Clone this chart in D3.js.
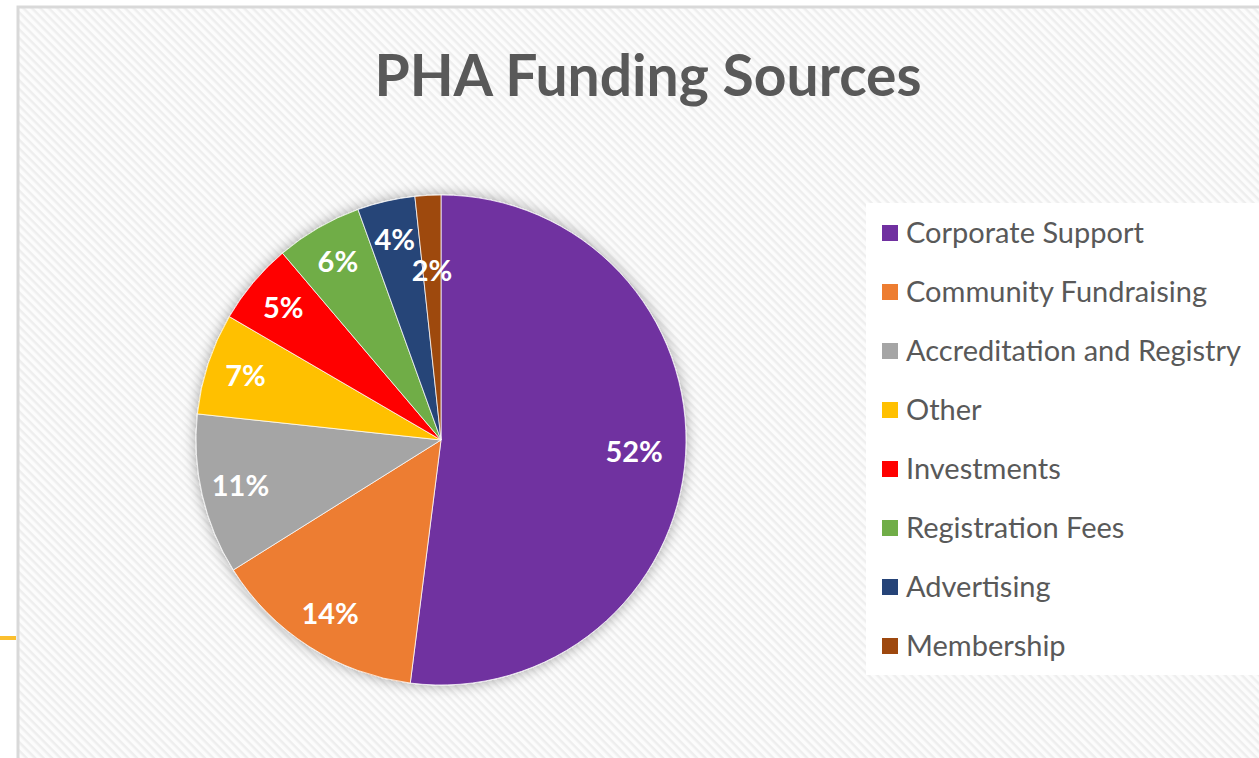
<!DOCTYPE html>
<html>
<head>
<meta charset="utf-8">
<script src="https://cdn.jsdelivr.net/npm/d3@7"></script>
<style>
  html, body { margin: 0; padding: 0; background: #fff; }
  svg { display: block; }
</style>
</head>
<body>
<svg width="1259" height="758"></svg>
<script>
// chart data
var categories = ["Corporate Support", "Community Fundraising", "Accreditation and Registry",
                  "Other", "Investments", "Registration Fees", "Advertising", "Membership"];
var values = [52.0, 14.1, 10.6, 6.7, 5.4, 5.7, 3.8, 1.7];
var colors = ["#7030a0", "#ed7d31", "#a5a5a5", "#ffc000", "#ff0000", "#70ad47", "#264478", "#9e480e"];
var title = "PHA Funding Sources";

var svg = d3.select("svg"),
    width = 1259,
    height = 758,
    cx = 441,
    cy = 440,
    radius = 245;

var total = d3.sum(values);
var color = d3.scaleOrdinal().domain(categories).range(colors);

var defs = svg.append("defs");

// diagonal hatch like the excel chart style
var pat = defs.append("pattern")
    .attr("id", "hatch")
    .attr("patternUnits", "userSpaceOnUse")
    .attr("width", 6)
    .attr("height", 6)
    .attr("patternTransform", "rotate(45)");
pat.append("rect").attr("width", 6).attr("height", 6).attr("fill", "#fcfcfc");
pat.append("rect").attr("width", 6).attr("height", 2.5).attr("fill", "#eeeeee");

var shadow = defs.append("filter")
    .attr("id", "shadow")
    .attr("x", "-20%").attr("y", "-20%")
    .attr("width", "140%").attr("height", "140%");
shadow.append("feGaussianBlur").attr("in", "SourceAlpha").attr("stdDeviation", 7);
shadow.append("feComponentTransfer")
  .append("feFuncA").attr("type", "linear").attr("slope", 0.35);
var merge = shadow.append("feMerge");
merge.append("feMergeNode");
merge.append("feMergeNode").attr("in", "SourceGraphic");

// chart area + border
svg.append("rect")
    .attr("x", 18).attr("y", 7)
    .attr("width", width).attr("height", height)
    .attr("fill", "url(#hatch)")
    .attr("stroke", "#d9d9d9")
    .attr("stroke-width", 3);

// the small yellow line sticking out on the left
svg.append("line")
    .attr("x1", 0).attr("x2", 16)
    .attr("y1", 638).attr("y2", 638)
    .attr("stroke", "#fbbf2e")
    .attr("stroke-width", 4);

svg.append("text")
    .attr("x", 648)
    .attr("y", 96)
    .attr("text-anchor", "middle")
    .style("font-family", "Lato, 'Open Sans', sans-serif")
    .style("font-weight", "bold")
    .style("font-size", "57px")
    .attr("fill", "#595959")
    .text(title);

// pie
var pie = d3.pie().sort(null).value(function(d) { return d; });
var arc = d3.arc().innerRadius(0).outerRadius(radius);
var arcs = pie(values);

var g = svg.append("g").attr("transform", "translate(" + cx + "," + cy + ")");

g.append("g")
    .attr("filter", "url(#shadow)")
  .selectAll("path")
  .data(arcs)
  .enter().append("path")
    .attr("d", arc)
    .attr("fill", function(d, i) { return color(categories[i]); })
    .attr("stroke", "#fff")
    .attr("stroke-width", 0.75);

// labels, small slices get pulled inwards (excel best fit)
g.selectAll("text.lbl")
  .data(arcs)
  .enter().append("text")
    .attr("class", "lbl")
    .attr("transform", function(d) {
        var a = (d.startAngle + d.endAngle) / 2;
        var span = d.endAngle - d.startAngle;
        var r = span < 0.15 ? radius * 0.69 : (span > 3 ? radius * 0.79 : radius * 0.84);
        return "translate(" + (Math.sin(a) * r) + "," + (-Math.cos(a) * r) + ")";
    })
    .attr("text-anchor", "middle")
    .attr("dy", "0.35em")
    .style("font-family", "Lato, 'Open Sans', sans-serif")
    .style("font-weight", "bold")
    .style("font-size", "29px")
    .attr("fill", "#fff")
    .text(function(d) { return Math.round(d.value / total * 100) + "%"; });

// legend
var legend = svg.append("g");
legend.append("rect")
    .attr("x", 866).attr("y", 203)
    .attr("width", 393).attr("height", 472)
    .attr("fill", "#fff");

var item = legend.selectAll("g.item")
  .data(categories)
  .enter().append("g")
    .attr("class", "item")
    .attr("transform", function(d, i) { return "translate(882," + (233 + i * 59) + ")"; });

item.append("rect")
    .attr("x", 0).attr("y", -8)
    .attr("width", 16).attr("height", 16)
    .attr("fill", function(d) { return color(d); });

item.append("text")
    .attr("x", 24)
    .attr("dy", "0.35em")
    .style("font-family", "Lato, 'Open Sans', sans-serif")
    .style("font-size", "29px")
    .attr("fill", "#595959")
    .text(function(d) { return d; });
</script>
</body>
</html>
